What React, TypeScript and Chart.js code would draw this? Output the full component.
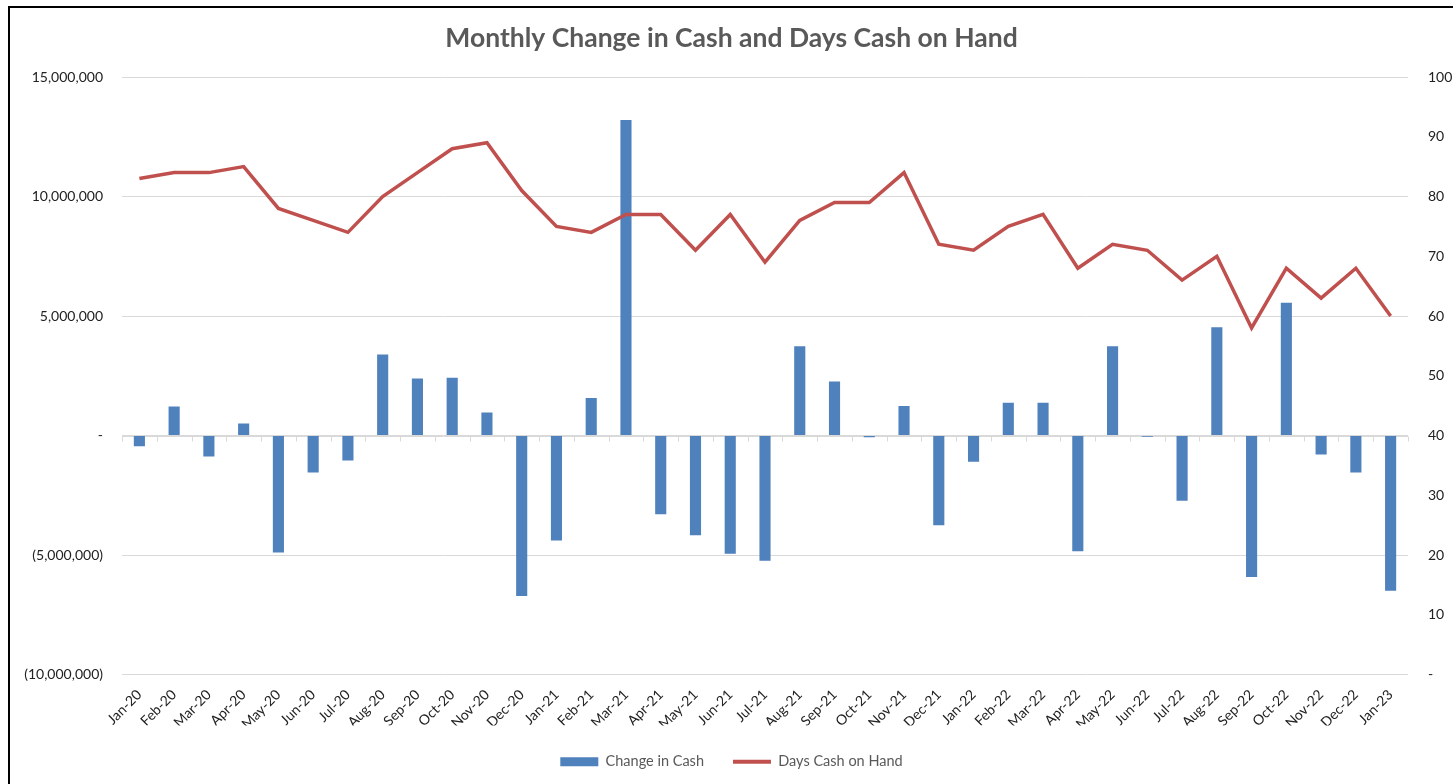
import React, { useEffect, useRef } from "react";
import { Chart, registerables } from "chart.js";

Chart.register(...registerables);

const categories = [
  "Jan-20", "Feb-20", "Mar-20", "Apr-20", "May-20", "Jun-20", "Jul-20", "Aug-20", "Sep-20", "Oct-20", "Nov-20", "Dec-20",
  "Jan-21", "Feb-21", "Mar-21", "Apr-21", "May-21", "Jun-21", "Jul-21", "Aug-21", "Sep-21", "Oct-21", "Nov-21", "Dec-21",
  "Jan-22", "Feb-22", "Mar-22", "Apr-22", "May-22", "Jun-22", "Jul-22", "Aug-22", "Sep-22", "Oct-22", "Nov-22", "Dec-22",
  "Jan-23",
];

const changeInCash = [
  -450000, 1210000, -880000, 500000, -4900000, -1550000, -1050000, 3390000, 2380000, 2420000, 960000, -6720000,
  -4390000, 1570000, 13200000, -3300000, -4170000, -4950000, -5240000, 3730000, 2260000, -70000, 1230000, -3760000,
  -1100000, 1370000, 1370000, -4840000, 3730000, -50000, -2730000, 4530000, -5920000, 5550000, -790000, -1550000,
  -6500000,
];

const daysCashOnHand = [
  83, 84, 84, 85, 78, 76, 74, 80, 84, 88, 89, 81,
  75, 74, 77, 77, 71, 77, 69, 76, 79, 79, 84, 72,
  71, 75, 77, 68, 72, 71, 66, 70, 58, 68, 63, 68,
  60,
];

const leftTicks = { min: -10000000, max: 15000000, step: 5000000 };
const rightTicks = { min: 0, max: 100, step: 10 };

const FONT = "Lato, 'Liberation Sans', sans-serif";

const zeroLinePlugin = {
  id: "zeroLine",
  beforeDatasetsDraw(chart: any) {
    const x = chart.scales.x;
    const y = chart.scales.y;
    const ctx = chart.ctx;
    const y0 = Math.round(y.getPixelForValue(0)) + 0.5;
    ctx.save();
    ctx.strokeStyle = "#d9d9d9";
    ctx.lineWidth = 1;
    ctx.beginPath();
    ctx.moveTo(chart.chartArea.left, y0);
    ctx.lineTo(chart.chartArea.right, y0);
    for (let i = 0; i <= categories.length; i++) {
      const px = Math.round(x.getPixelForValue(i - 0.5)) + 0.5;
      ctx.moveTo(px, y0);
      ctx.lineTo(px, y0 + 5);
    }
    ctx.stroke();
    ctx.restore();
  },
};

export default function App() {
  const canvasRef = useRef<HTMLCanvasElement | null>(null);

  useEffect(() => {
    if (!canvasRef.current) return;
    const chart = new Chart(canvasRef.current, {
      type: "bar",
      data: {
        labels: categories,
        datasets: [
          {
            type: "bar",
            label: "Change in Cash",
            data: changeInCash,
            backgroundColor: "#4f81bd",
            borderWidth: 0,
            barPercentage: 0.32,
            categoryPercentage: 1,
            yAxisID: "y",
            order: 2,
          },
          {
            type: "line",
            label: "Days Cash on Hand",
            data: daysCashOnHand,
            borderColor: "#c0504d",
            backgroundColor: "#c0504d",
            borderWidth: 3.5,
            pointRadius: 0,
            tension: 0,
            yAxisID: "y1",
            order: 1,
          },
        ] as any,
      },
      options: {
        animation: false,
        responsive: false,
        layout: { padding: { left: 0, right: 0, top: 0, bottom: 5 } },
        plugins: {
          title: {
            display: true,
            text: "Monthly Change in Cash and Days Cash on Hand",
            color: "#595959",
            font: { family: FONT, size: 26.5, weight: "bold" },
            padding: { top: 14.1, bottom: 23.1 },
          },
          legend: {
            position: "bottom",
            labels: {
              usePointStyle: true,
              pointStyleWidth: 38,
              boxHeight: 9,
              padding: 29,
              color: "#595959",
              font: { family: FONT, size: 14.5 },
              generateLabels(chart: any) {
                const items = Chart.defaults.plugins.legend.labels.generateLabels(chart);
                items.sort((a: any, b: any) => a.datasetIndex - b.datasetIndex);
                return items.map((it: any) => {
                  if (it.datasetIndex === 0) {
                    return { ...it, pointStyle: "rect", fillStyle: "#4f81bd", strokeStyle: "#4f81bd", lineWidth: 0 };
                  }
                  return { ...it, pointStyle: "line", fillStyle: "#c0504d", strokeStyle: "#c0504d", lineWidth: 4 };
                });
              },
            },
          },
          tooltip: { enabled: false },
        },
        scales: {
          x: {
            grid: { display: false },
            border: { display: false },
            ticks: {
              autoSkip: false,
              minRotation: 45,
              maxRotation: 45,
              color: "#222",
              padding: 4,
              font: { family: FONT, size: 14 },
            },
            afterFit(scale: any) {
              scale.height = 51;
            },
          },
          y: {
            position: "left",
            min: leftTicks.min,
            max: leftTicks.max,
            grid: { color: "#d9d9d9", drawTicks: false },
            border: { display: false },
            ticks: {
              stepSize: leftTicks.step,
              padding: 19,
              color: "#222",
              font: { family: FONT, size: 14 },
              callback(v: any) {
                const n = Number(v);
                if (n === 0) return "-";
                const s = Math.abs(n).toLocaleString("en-US");
                return n < 0 ? `(${s})` : s;
              },
            },
            afterFit(scale: any) {
              scale.width = 112;
            },
          },
          y1: {
            position: "right",
            min: rightTicks.min,
            max: rightTicks.max,
            grid: { display: false, drawTicks: false },
            border: { display: false },
            ticks: {
              stepSize: rightTicks.step,
              padding: 20,
              color: "#222",
              font: { family: FONT, size: 14 },
              callback(v: any) {
                const n = Number(v);
                return n === 0 ? "-" : String(n);
              },
            },
            afterFit(scale: any) {
              scale.width = 45;
            },
          },
        },
      },
      plugins: [zeroLinePlugin],
    });
    return () => chart.destroy();
  }, []);

  return (
    <div
      style={{
        position: "absolute",
        left: 8,
        top: 6,
        width: 1445,
        height: 778,
        borderTop: "2px solid #000",
        borderLeft: "2px solid #000",
        boxSizing: "border-box",
        background: "#fff",
        overflow: "hidden",
      }}
    >
      <canvas
        ref={canvasRef}
        width={1443}
        height={776}
        style={{ display: "block", width: 1443, height: 776 }}
      />
    </div>
  );
}
